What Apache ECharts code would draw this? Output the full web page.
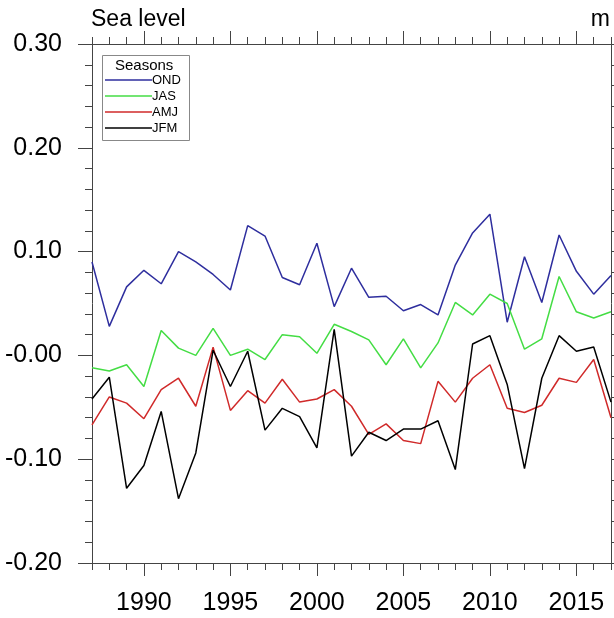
<!DOCTYPE html>
<html>
<head>
<meta charset="utf-8">
<script src="https://cdn.jsdelivr.net/npm/echarts@6/dist/echarts.min.js"></script>
<style>html,body{margin:0;padding:0;background:#fff}#c{width:614px;height:618px}</style>
</head>
<body>
<div id="c"></div>
<script>
const years = [1987,1988,1989,1990,1991,1992,1993,1994,1995,1996,1997,1998,1999,2000,2001,2002,2003,2004,2005,2006,2007,2008,2009,2010,2011,2012,2013,2014,2015,2016,2017];
const ond = [0.090,0.028,0.066,0.082,0.069,0.100,0.090,0.078,0.063,0.125,0.115,0.075,0.068,0.108,0.047,0.084,0.056,0.057,0.043,0.049,0.039,0.087,0.118,0.136,0.032,0.095,0.051,0.116,0.081,0.059,0.077];
const jas = [-0.012,-0.015,-0.009,-0.030,0.024,0.007,0.000,0.026,0.000,0.006,-0.004,0.020,0.018,0.002,0.030,0.023,0.015,-0.009,0.016,-0.012,0.012,0.051,0.039,0.059,0.050,0.006,0.016,0.076,0.042,0.036,0.042];
const amj = [-0.067,-0.040,-0.046,-0.061,-0.033,-0.022,-0.049,0.008,-0.053,-0.034,-0.046,-0.023,-0.045,-0.042,-0.033,-0.049,-0.076,-0.066,-0.082,-0.085,-0.025,-0.045,-0.022,-0.009,-0.051,-0.055,-0.048,-0.022,-0.026,-0.004,-0.060];
const jfm = [-0.042,-0.021,-0.128,-0.106,-0.054,-0.138,-0.094,0.005,-0.030,0.004,-0.072,-0.051,-0.059,-0.089,0.025,-0.097,-0.074,-0.082,-0.071,-0.071,-0.063,-0.110,0.011,0.019,-0.028,-0.109,-0.022,0.019,0.004,0.008,-0.045];
const xMajorLabels = [1990,1995,2000,2005,2010,2015];
const yTicks = [-0.2,-0.1,0,0.1,0.2,0.3];
const seriesNames = ['OND','JAS','AMJ','JFM'];
const legendTitle = 'Seasons';
const titleText = 'Sea level';
const unitText = 'm';

const FONT = "'Liberation Sans',Arial,Helvetica,sans-serif";
const axisCol = '#444';
const colors = ['#2e2e9e','#44dd44','#d02a2a','#000000'];
const dataSets = [ond, jas, amj, jfm];

function xAxisDef(pos, ticks, len, labels) {
  return {
    type: 'value', position: pos, min: years[0], max: years[years.length-1],
    splitLine: {show:false},
    axisLine: {show: true, onZero:false, lineStyle:{color:axisCol, width:1}},
    axisTick: {show:true, inside:false, length:len, customValues: ticks, lineStyle:{color:axisCol, width:1}},
    axisLabel: labels ? {show:true, customValues: xMajorLabels, margin: 28, fontSize: 25, fontFamily: FONT, color:'#000', formatter: v => String(v)} : {show:false}
  };
}
function yAxisDef(pos, labels) {
  return {
    type: 'value', position: pos, min: yTicks[0], max: yTicks[yTicks.length-1], interval: 0.1,
    splitLine: {show:false},
    axisLine: {show:true, onZero:false, lineStyle:{color:axisCol, width:1}},
    axisTick: {show:true, inside:false, length:14, lineStyle:{color:axisCol, width:1}},
    minorTick: {show:true, splitNumber:5, length:7, lineStyle:{color:axisCol, width:1}},
    axisLabel: labels ? {show:true, margin:30, fontSize:25, fontFamily:FONT, color:'#000',
      formatter: v => { const r = Math.round(v*100)/100; return (r <= 0 ? '-' + Math.abs(r).toFixed(2) : r.toFixed(2)); }} : {show:false}
  };
}

const chart = echarts.init(document.getElementById('c'), null, {renderer:'canvas'});
chart.setOption({
  animation: false,
  backgroundColor: '#fff',
  grid: {left: 92, right: 3, top: 44, bottom: 55, containLabel:false},
  xAxis: [
    xAxisDef('bottom', xMajorLabels, 13, true),
    xAxisDef('bottom', years, 7, false),
    xAxisDef('top', xMajorLabels, 13, false),
    xAxisDef('top', years, 7, false)
  ],
  yAxis: [yAxisDef('left', true), yAxisDef('right', false)],
  legend: {
    show: true, orient: 'vertical', left: 105, top: 72,
    itemWidth: 47, itemHeight: 1.5, itemGap: 0, icon: 'rect',
    data: seriesNames,
    textStyle: {fontSize: 13, fontFamily: FONT, color:'#000', lineHeight: 16, padding:[0,0,0,-5]},
    padding: 0, selectedMode: false
  },
  graphic: [
    {type:'rect', left:100, top:53, shape:{width:87, height:85}, style:{fill:'none', stroke:'#888', lineWidth:1}, z:0},
    {type:'text', left:115, top:58, style:{text: legendTitle, font: "15px " + FONT, fill:'#000'}},
    {type:'text', left:91, top:8, style:{text: titleText, font: "23px " + FONT, fill:'#000'}},
    {type:'text', right:4, top:8, style:{text: unitText, font: "23px " + FONT, fill:'#000'}}
  ],
  series: seriesNames.map((n, i) => ({
    name: n, type: 'line', xAxisIndex: 0, yAxisIndex: 0,
    data: years.map((y, k) => [y, dataSets[i][k]]),
    symbol: 'none', lineStyle: {color: colors[i], width: 1.5}, itemStyle:{color: colors[i]},
    z: 2 + i
  }))
});
</script>
</body>
</html>
